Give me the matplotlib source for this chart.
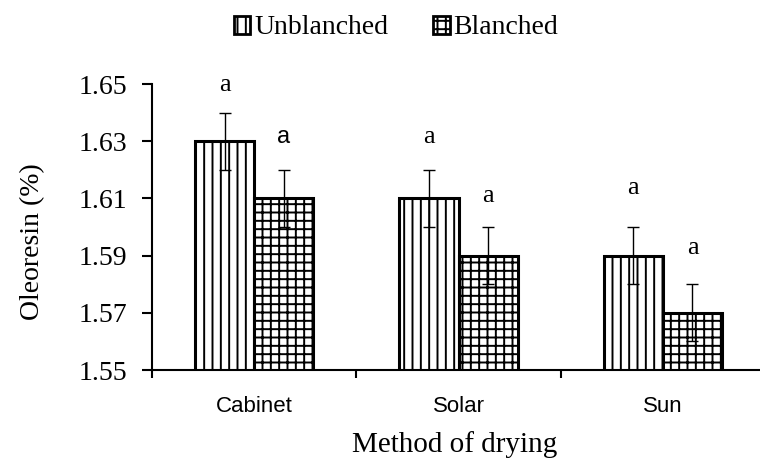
import matplotlib
matplotlib.use("Agg")
import matplotlib.pyplot as plt
import numpy as np
from matplotlib.patches import Patch

categories = ["Cabinet", "Solar", "Sun"]
unblanched = [1.63, 1.61, 1.59]
blanched = [1.61, 1.59, 1.57]
unblanched_err = [0.01, 0.01, 0.01]
blanched_err = [0.01, 0.01, 0.01]
unblanched_letters = ["a", "a", "a"]
blanched_letters = ["a", "a", "a"]
unblanched_letter_y = [1.6497, 1.6315, 1.6136]
blanched_letter_y = [1.6315, 1.6108, 1.5927]
yticks = [1.55, 1.57, 1.59, 1.61, 1.63, 1.65]

plt.rcParams['hatch.linewidth'] = 1.4
plt.rcParams['hatch.color'] = 'black'

fig = plt.figure(figsize=(7.6, 4.59), dpi=100)
ax = fig.add_axes([152/760, 1 - 370/459, (765 - 152)/760, (370 - 84)/459])

x = np.arange(len(categories))
w = 0.29
ax.bar(x - w/2, unblanched, w, facecolor='white', edgecolor='black',
       linewidth=2.2, hatch='||', zorder=2)
ax.bar(x + w/2, blanched, w, facecolor='white', edgecolor='black',
       linewidth=2.2, hatch='++', zorder=2)
ax.errorbar(x - w/2, unblanched, yerr=unblanched_err, fmt='none', ecolor='black',
            elinewidth=1, capsize=4.5, capthick=1, zorder=3)
ax.errorbar(x + w/2, blanched, yerr=blanched_err, fmt='none', ecolor='black',
            elinewidth=1, capsize=4.5, capthick=1, zorder=3)

for i in range(len(categories)):
    ax.text(x[i] - w/2, unblanched_letter_y[i], unblanched_letters[i], ha='center',
            va='center', fontsize=19, family='Liberation Serif')
    fam = 'Liberation Sans' if i == 0 else 'Liberation Serif'
    ax.text(x[i] + w/2, blanched_letter_y[i], blanched_letters[i], ha='center',
            va='center', fontsize=17 if i == 0 else 19, family=fam)

ax.set_ylim(1.55, 1.65)
ax.set_yticks(yticks)
ax.set_yticklabels([f"{v:.2f}" for v in yticks], family='Liberation Serif', fontsize=20)
ax.set_xlim(-0.5, len(categories) - 0.5)
ax.set_xticks(x)
ax.set_xticklabels(categories, family='Liberation Sans', fontsize=16)
ax.set_xticks(np.arange(len(categories)) - 0.5, minor=True)
ax.tick_params(axis='x', which='major', length=0, pad=19)
ax.tick_params(axis='x', which='minor', length=6, width=1.5, direction='out')
ax.tick_params(axis='y', length=7, width=1.5, direction='out', pad=11)

for s in ['top', 'right']:
    ax.spines[s].set_visible(False)
for s in ['left', 'bottom']:
    ax.spines[s].set_linewidth(1.5)

ax.set_ylabel("Oleoresin (%)", family='Liberation Serif', fontsize=20)
ax.yaxis.set_label_coords(-0.175, 0.45)
ax.set_xlabel("Method of drying", family='Liberation Serif', fontsize=21)
ax.xaxis.set_label_coords(0.493, -0.215)

handles = [Patch(facecolor='white', edgecolor='black', hatch='||', linewidth=2),
           Patch(facecolor='white', edgecolor='black', hatch='++', linewidth=2)]
fig.legend(handles, ["Unblanched", "Blanched"], loc='center', bbox_to_anchor=(396/760, 1 - 28/459),
           ncol=2, frameon=False, prop={'family': 'Liberation Serif', 'size': 20},
           handlelength=0.6, handleheight=0.6, handletextpad=0.15, columnspacing=1.6)

fig.savefig("out.png", dpi=100)
